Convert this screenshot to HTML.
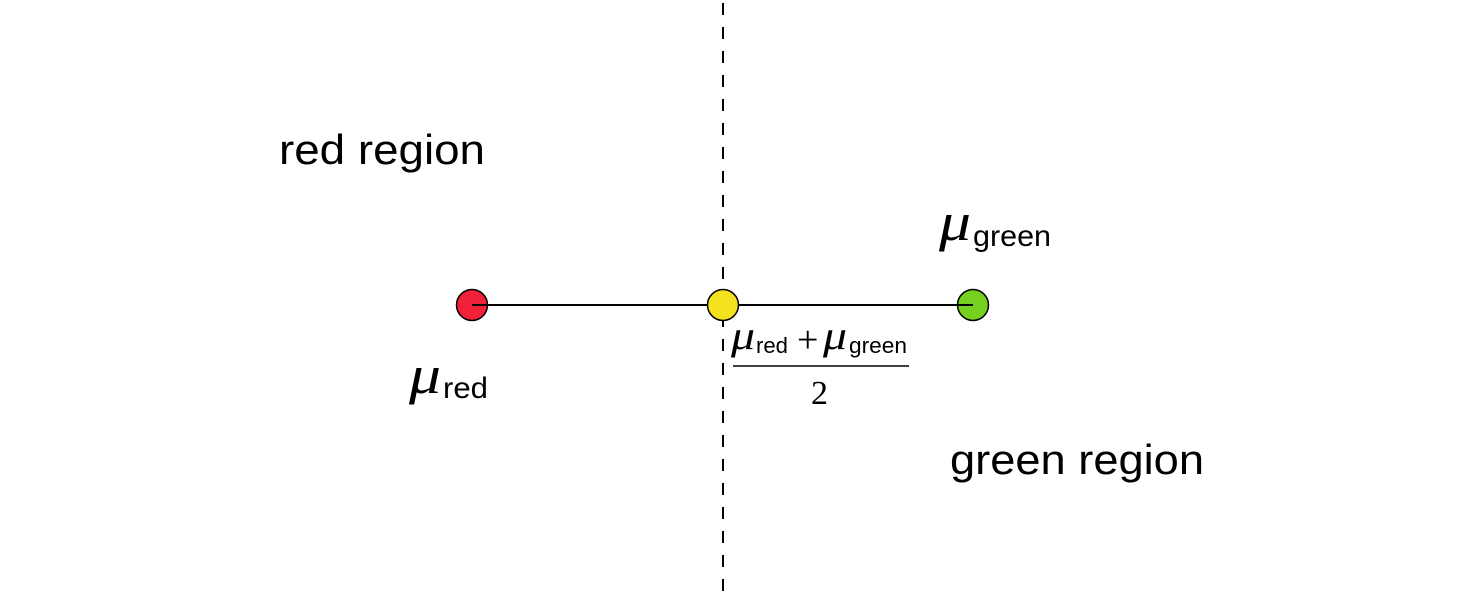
<!DOCTYPE html>
<html><head><style>html,body{margin:0;padding:0;background:#fff}svg{display:block}</style></head>
<body>
<svg width="1483" height="603" viewBox="0 0 1483 603" xmlns="http://www.w3.org/2000/svg" font-family="Liberation Sans, sans-serif">
<line x1="723" y1="3" x2="723" y2="592" stroke="#000" stroke-width="2" stroke-dasharray="12,12"/>
<line x1="472" y1="305" x2="973" y2="305" stroke="#000" stroke-width="2"/>
<circle cx="472" cy="305" r="15.5" fill="#f2213a" stroke="#000" stroke-width="1.5"/>
<circle cx="723" cy="305" r="15.5" fill="#f5e21e" stroke="#000" stroke-width="1.5"/>
<circle cx="973" cy="305" r="15.5" fill="#76d01f" stroke="#000" stroke-width="1.5"/>
<line x1="472" y1="305" x2="488" y2="305" stroke="#000" stroke-width="2"/>
<line x1="957" y1="305" x2="973" y2="305" stroke="#000" stroke-width="2"/>
<text x="279" y="164" font-size="42" textLength="206" lengthAdjust="spacingAndGlyphs">red region</text>
<text x="950" y="474" font-size="42" textLength="254" lengthAdjust="spacingAndGlyphs">green region</text>
<text x="939" y="240" font-size="54" font-style="italic" font-family="Liberation Serif, serif" textLength="32" lengthAdjust="spacingAndGlyphs">μ</text>
<text x="973" y="246" font-size="30" textLength="78" lengthAdjust="spacingAndGlyphs">green</text>
<text x="409" y="393" font-size="54" font-style="italic" font-family="Liberation Serif, serif" textLength="32" lengthAdjust="spacingAndGlyphs">μ</text>
<text x="443" y="398" font-size="30" textLength="45" lengthAdjust="spacingAndGlyphs">red</text>
<text x="731" y="349" font-size="40" font-style="italic" font-family="Liberation Serif, serif" textLength="24" lengthAdjust="spacingAndGlyphs">μ</text>
<text x="756" y="353" font-size="22" textLength="32" lengthAdjust="spacingAndGlyphs">red</text>
<text x="797" y="352" font-size="38" font-family="Liberation Serif, serif">+</text>
<text x="823" y="349" font-size="40" font-style="italic" font-family="Liberation Serif, serif" textLength="24" lengthAdjust="spacingAndGlyphs">μ</text>
<text x="849" y="353" font-size="22" textLength="58" lengthAdjust="spacingAndGlyphs">green</text>
<line x1="733" y1="366" x2="909" y2="366" stroke="#000" stroke-width="1.5"/>
<text x="811" y="404" font-size="34" font-family="Liberation Serif, serif">2</text>
</svg>
</body></html>
